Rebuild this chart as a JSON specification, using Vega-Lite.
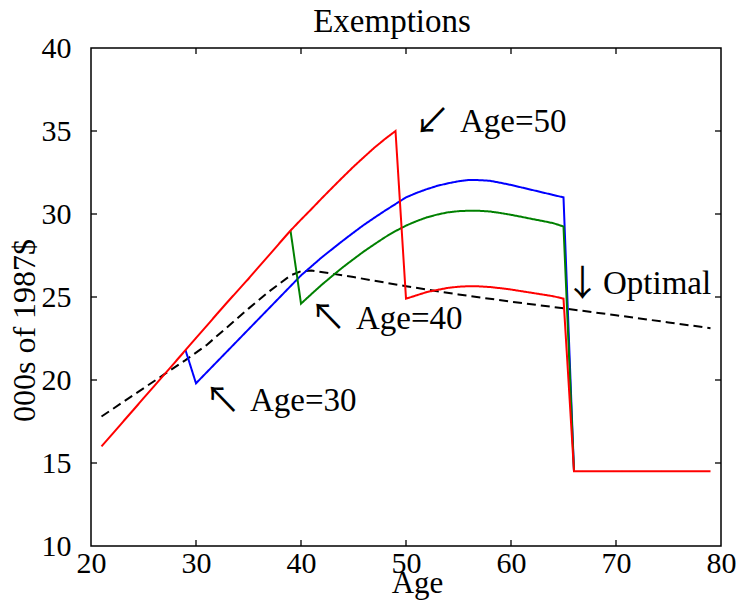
{
  "$schema": "https://vega.github.io/schema/vega-lite/v6.json",
  "width": 630,
  "height": 498,
  "autosize": "none",
  "padding": {"left": 91, "top": 48, "right": 23, "bottom": 54},
  "background": "white",
  "title": {"text": "Exemptions", "font": "Liberation Serif", "fontSize": 33, "fontWeight": "normal", "color": "black", "anchor": "middle", "dx": -14, "offset": -6, "frame": "group"},
  "config": {
    "view": {"stroke": "black", "strokeWidth": 1.5},
    "axis": {"grid": false, "domain": false, "ticks": false, "labelFlush": false, "labelFont": "Liberation Serif", "labelFontSize": 30, "labelColor": "black", "titleFont": "Liberation Serif", "titleFontWeight": "normal", "titleColor": "black"}
  },
  "datasets": {
    "curves": [
      {"series": "Optimal", "age": 21, "value": 17.8},
      {"series": "Optimal", "age": 23, "value": 18.65},
      {"series": "Optimal", "age": 25, "value": 19.5},
      {"series": "Optimal", "age": 27, "value": 20.35},
      {"series": "Optimal", "age": 29, "value": 21.2},
      {"series": "Optimal", "age": 31, "value": 22.1},
      {"series": "Optimal", "age": 33, "value": 23.2},
      {"series": "Optimal", "age": 35, "value": 24.3},
      {"series": "Optimal", "age": 37, "value": 25.35},
      {"series": "Optimal", "age": 39, "value": 26.3},
      {"series": "Optimal", "age": 40, "value": 26.55},
      {"series": "Optimal", "age": 41, "value": 26.6},
      {"series": "Optimal", "age": 45, "value": 26.2},
      {"series": "Optimal", "age": 50, "value": 25.65},
      {"series": "Optimal", "age": 55, "value": 25.15},
      {"series": "Optimal", "age": 60, "value": 24.72},
      {"series": "Optimal", "age": 65, "value": 24.32},
      {"series": "Optimal", "age": 70, "value": 23.9},
      {"series": "Optimal", "age": 75, "value": 23.47},
      {"series": "Optimal", "age": 79, "value": 23.12},
      {"series": "Age=30", "age": 29, "value": 21.8},
      {"series": "Age=30", "age": 30, "value": 19.8},
      {"series": "Age=30", "age": 31, "value": 20.45},
      {"series": "Age=30", "age": 32, "value": 21.1},
      {"series": "Age=30", "age": 33, "value": 21.75},
      {"series": "Age=30", "age": 34, "value": 22.4},
      {"series": "Age=30", "age": 35, "value": 23.05},
      {"series": "Age=30", "age": 36, "value": 23.7},
      {"series": "Age=30", "age": 37, "value": 24.35},
      {"series": "Age=30", "age": 38, "value": 25.0},
      {"series": "Age=30", "age": 39, "value": 25.65},
      {"series": "Age=30", "age": 40, "value": 26.3},
      {"series": "Age=30", "age": 41, "value": 26.85},
      {"series": "Age=30", "age": 42, "value": 27.4},
      {"series": "Age=30", "age": 43, "value": 27.9},
      {"series": "Age=30", "age": 44, "value": 28.4},
      {"series": "Age=30", "age": 45, "value": 28.88},
      {"series": "Age=30", "age": 46, "value": 29.35},
      {"series": "Age=30", "age": 47, "value": 29.78},
      {"series": "Age=30", "age": 48, "value": 30.2},
      {"series": "Age=30", "age": 49, "value": 30.6},
      {"series": "Age=30", "age": 50, "value": 31.0},
      {"series": "Age=30", "age": 51, "value": 31.27},
      {"series": "Age=30", "age": 52, "value": 31.5},
      {"series": "Age=30", "age": 53, "value": 31.7},
      {"series": "Age=30", "age": 54, "value": 31.85},
      {"series": "Age=30", "age": 55, "value": 31.97},
      {"series": "Age=30", "age": 56, "value": 32.05},
      {"series": "Age=30", "age": 57, "value": 32.04},
      {"series": "Age=30", "age": 58, "value": 32.0},
      {"series": "Age=30", "age": 59, "value": 31.88},
      {"series": "Age=30", "age": 60, "value": 31.75},
      {"series": "Age=30", "age": 61, "value": 31.6},
      {"series": "Age=30", "age": 62, "value": 31.45},
      {"series": "Age=30", "age": 63, "value": 31.3},
      {"series": "Age=30", "age": 64, "value": 31.15},
      {"series": "Age=30", "age": 65, "value": 31.0},
      {"series": "Age=30", "age": 66, "value": 14.5},
      {"series": "Age=40", "age": 39, "value": 29.0},
      {"series": "Age=40", "age": 40, "value": 24.6},
      {"series": "Age=40", "age": 41, "value": 25.18},
      {"series": "Age=40", "age": 42, "value": 25.75},
      {"series": "Age=40", "age": 43, "value": 26.28},
      {"series": "Age=40", "age": 44, "value": 26.8},
      {"series": "Age=40", "age": 45, "value": 27.28},
      {"series": "Age=40", "age": 46, "value": 27.75},
      {"series": "Age=40", "age": 47, "value": 28.18},
      {"series": "Age=40", "age": 48, "value": 28.6},
      {"series": "Age=40", "age": 49, "value": 28.97},
      {"series": "Age=40", "age": 50, "value": 29.3},
      {"series": "Age=40", "age": 51, "value": 29.57},
      {"series": "Age=40", "age": 52, "value": 29.8},
      {"series": "Age=40", "age": 53, "value": 29.97},
      {"series": "Age=40", "age": 54, "value": 30.1},
      {"series": "Age=40", "age": 55, "value": 30.17},
      {"series": "Age=40", "age": 56, "value": 30.2},
      {"series": "Age=40", "age": 57, "value": 30.19},
      {"series": "Age=40", "age": 58, "value": 30.15},
      {"series": "Age=40", "age": 59, "value": 30.06},
      {"series": "Age=40", "age": 60, "value": 29.95},
      {"series": "Age=40", "age": 61, "value": 29.83},
      {"series": "Age=40", "age": 62, "value": 29.7},
      {"series": "Age=40", "age": 63, "value": 29.58},
      {"series": "Age=40", "age": 64, "value": 29.45},
      {"series": "Age=40", "age": 65, "value": 29.25},
      {"series": "Age=40", "age": 66, "value": 14.5},
      {"series": "Age=50", "age": 21, "value": 16.0},
      {"series": "Age=50", "age": 22, "value": 16.72},
      {"series": "Age=50", "age": 23, "value": 17.45},
      {"series": "Age=50", "age": 24, "value": 18.17},
      {"series": "Age=50", "age": 25, "value": 18.9},
      {"series": "Age=50", "age": 26, "value": 19.62},
      {"series": "Age=50", "age": 27, "value": 20.35},
      {"series": "Age=50", "age": 28, "value": 21.07},
      {"series": "Age=50", "age": 29, "value": 21.8},
      {"series": "Age=50", "age": 30, "value": 22.53},
      {"series": "Age=50", "age": 31, "value": 23.25},
      {"series": "Age=50", "age": 32, "value": 23.98},
      {"series": "Age=50", "age": 33, "value": 24.7},
      {"series": "Age=50", "age": 34, "value": 25.4},
      {"series": "Age=50", "age": 35, "value": 26.1},
      {"series": "Age=50", "age": 36, "value": 26.83},
      {"series": "Age=50", "age": 37, "value": 27.55},
      {"series": "Age=50", "age": 38, "value": 28.28},
      {"series": "Age=50", "age": 39, "value": 29.0},
      {"series": "Age=50", "age": 40, "value": 29.66},
      {"series": "Age=50", "age": 41, "value": 30.3},
      {"series": "Age=50", "age": 42, "value": 30.96},
      {"series": "Age=50", "age": 43, "value": 31.6},
      {"series": "Age=50", "age": 44, "value": 32.23},
      {"series": "Age=50", "age": 45, "value": 32.85},
      {"series": "Age=50", "age": 46, "value": 33.43},
      {"series": "Age=50", "age": 47, "value": 34.0},
      {"series": "Age=50", "age": 48, "value": 34.52},
      {"series": "Age=50", "age": 49, "value": 35.0},
      {"series": "Age=50", "age": 50, "value": 24.9},
      {"series": "Age=50", "age": 51, "value": 25.1},
      {"series": "Age=50", "age": 52, "value": 25.3},
      {"series": "Age=50", "age": 53, "value": 25.43},
      {"series": "Age=50", "age": 54, "value": 25.55},
      {"series": "Age=50", "age": 55, "value": 25.62},
      {"series": "Age=50", "age": 56, "value": 25.65},
      {"series": "Age=50", "age": 57, "value": 25.64},
      {"series": "Age=50", "age": 58, "value": 25.6},
      {"series": "Age=50", "age": 59, "value": 25.53},
      {"series": "Age=50", "age": 60, "value": 25.45},
      {"series": "Age=50", "age": 61, "value": 25.35},
      {"series": "Age=50", "age": 62, "value": 25.25},
      {"series": "Age=50", "age": 63, "value": 25.15},
      {"series": "Age=50", "age": 64, "value": 25.05},
      {"series": "Age=50", "age": 65, "value": 24.9},
      {"series": "Age=50", "age": 66, "value": 14.5},
      {"series": "Age=50", "age": 79, "value": 14.5}
    ],
    "labels": [
      {"age": 35.14, "value": 18.15, "label": "Age=30"},
      {"age": 45.24, "value": 23.05, "label": "Age=40"},
      {"age": 55.14, "value": 34.96, "label": "Age=50"},
      {"age": 68.76, "value": 25.18, "label": "Optimal"}
    ],
    "arrows": [
      {"age": 32.52, "value": 18.7, "glyph": "↖"},
      {"age": 42.57, "value": 23.7, "glyph": "↖"},
      {"age": 52.5, "value": 35.5, "glyph": "↙"},
      {"age": 66.8, "value": 25.75, "glyph": "↓"}
    ],
    "xticks": [{"age": 30}, {"age": 40}, {"age": 50}, {"age": 60}, {"age": 70}],
    "yticks": [{"value": 15}, {"value": 20}, {"value": 25}, {"value": 30}, {"value": 35}]
  },
  "layer": [
    {
      "data": {"name": "curves"},
      "mark": {"type": "line", "strokeWidth": 2, "clip": true},
      "encoding": {
        "x": {"field": "age", "type": "quantitative", "scale": {"domain": [20, 80], "nice": false, "zero": false},
          "axis": {"orient": "bottom", "values": [20, 30, 40, 50, 60, 70, 80], "labelPadding": 2, "labelDx": 4, "title": "Age", "titleFontSize": 31, "titleX": 326, "titleY": 46, "titleBaseline": "alphabetic"}},
        "y": {"field": "value", "type": "quantitative", "scale": {"domain": [10, 40], "nice": false, "zero": false},
          "axis": {"orient": "left", "values": [10, 15, 20, 25, 30, 35, 40], "labelPadding": 20, "title": "000s of 1987$", "titleFontSize": 32, "titleX": -67, "titleY": 282, "titleAlign": "center", "titleBaseline": "middle", "titleAngle": -90}},
        "color": {"field": "series", "type": "nominal", "scale": {"domain": ["Optimal", "Age=30", "Age=40", "Age=50"], "range": ["#000000", "#0000ff", "#008000", "#ff0000"]}, "legend": null},
        "strokeDash": {"field": "series", "type": "nominal", "scale": {"domain": ["Optimal", "Age=30", "Age=40", "Age=50"], "range": [[9, 5], [1, 0], [1, 0], [1, 0]]}, "legend": null}
      }
    },
    {
      "data": {"name": "xticks"},
      "mark": {"type": "tick", "orient": "vertical", "size": 12, "thickness": 1.3, "color": "black", "opacity": 1, "clip": true},
      "encoding": {
        "x": {"field": "age", "type": "quantitative"},
        "y": {"datum": 10, "type": "quantitative"}
      }
    },
    {
      "data": {"name": "xticks"},
      "mark": {"type": "tick", "orient": "vertical", "size": 12, "thickness": 1.3, "color": "black", "opacity": 1, "clip": true},
      "encoding": {
        "x": {"field": "age", "type": "quantitative"},
        "y": {"datum": 40, "type": "quantitative"}
      }
    },
    {
      "data": {"name": "yticks"},
      "mark": {"type": "tick", "orient": "horizontal", "size": 12, "thickness": 1.3, "color": "black", "opacity": 1, "clip": true},
      "encoding": {
        "y": {"field": "value", "type": "quantitative"},
        "x": {"datum": 20, "type": "quantitative"}
      }
    },
    {
      "data": {"name": "yticks"},
      "mark": {"type": "tick", "orient": "horizontal", "size": 12, "thickness": 1.3, "color": "black", "opacity": 1, "clip": true},
      "encoding": {
        "y": {"field": "value", "type": "quantitative"},
        "x": {"datum": 80, "type": "quantitative"}
      }
    },
    {
      "data": {"name": "labels"},
      "mark": {"type": "text", "font": "Liberation Serif", "fontSize": 33, "align": "left", "baseline": "alphabetic", "color": "black"},
      "encoding": {
        "x": {"field": "age", "type": "quantitative"},
        "y": {"field": "value", "type": "quantitative"},
        "text": {"field": "label"}
      }
    },
    {
      "data": {"name": "arrows"},
      "mark": {"type": "text", "font": "Noto Sans CJK JP", "fontSize": 36, "align": "center", "baseline": "middle", "color": "black"},
      "encoding": {
        "x": {"field": "age", "type": "quantitative"},
        "y": {"field": "value", "type": "quantitative"},
        "text": {"field": "glyph"}
      }
    }
  ]
}
